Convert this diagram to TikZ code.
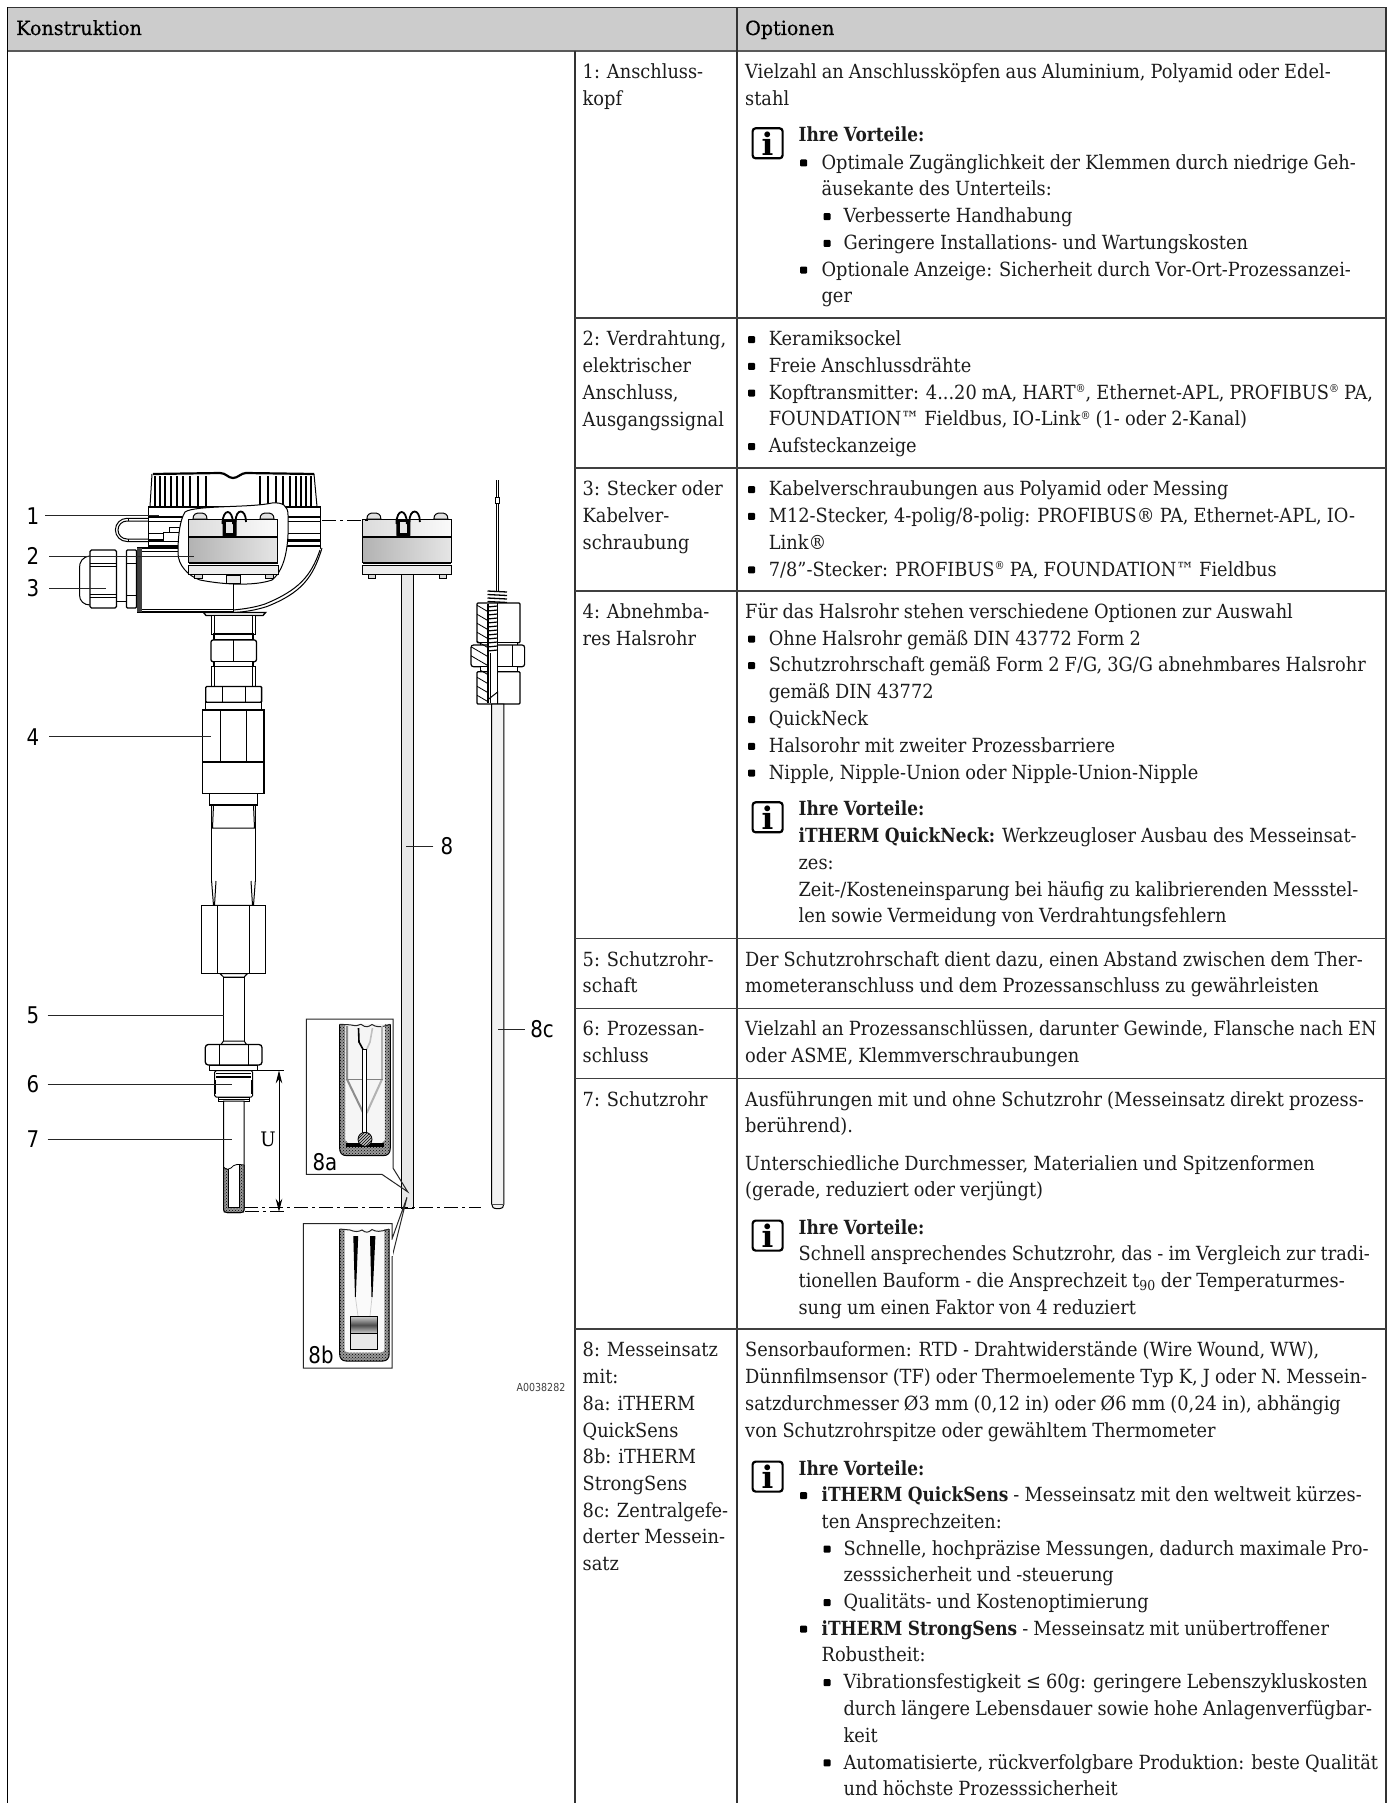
\documentclass[tikz,border=0pt]{standalone}
\usepackage{fontspec}
\usetikzlibrary{patterns,arrows.meta}
\setmainfont{DejaVu Serif}[FakeStretch=0.912,WordSpace=0.9,BoldFeatures={FakeStretch=0.87}]
\newfontfamily\hdrf{DejaVu Serif}[FakeStretch=0.98,FakeBold=0.5]
\newfontfamily\lblf{DejaVu Sans}[FakeStretch=0.86]
\newfontfamily\iconf{DejaVu Serif Bold}
\definecolor{ink}{HTML}{1C1C1C}
\definecolor{rule}{HTML}{333333}
\definecolor{headfill}{HTML}{CCCCCC}
\tikzset{
  txt/.style={inner sep=0pt,anchor=north west,align=left,text=ink,font=\fontsize{19.5}{26.7}\selectfont},
  hdr/.style={inner sep=0pt,anchor=base west,text=black,font=\hdrf\fontsize{19.5}{26.7}\selectfont},
  icon/.style={draw=black,line width=2.2pt,rounded corners=3pt,minimum width=30pt,minimum height=30pt,inner sep=0pt,anchor=north west,font=\iconf\fontsize{31}{31}\selectfont},
  num/.style={inner sep=0pt,font=\lblf\fontsize{23}{23}\selectfont,text=black},
  leader/.style={line width=1pt,draw=black!85},
  dl/.style={line width=1pt,draw=black},
  pl/.style={line width=1pt,draw=black,fill=white},
  cen/.style={line width=.8pt,draw=black,dash pattern=on 14pt off 4pt on 3pt off 4pt},
  wall/.style={preaction={fill=black!40},pattern=crosshatch dots,pattern color=black},
}
\newcommand\T[4]{\node[txt] (#1) at ({#2},{#3-18.69}) {\strut #4};}
\newcommand\Bu[2]{\fill[black,rounded corners=1pt] ({#1},{#2-9.5}) rectangle ({#1+7},{#2-2.5});}
\newcommand\Ic[2]{\node[icon] (#1) at (751.5,{#2-14.5}) {i};}
\newcommand\Sup[1]{\raisebox{.62ex}{\fontsize{11}{11}\selectfont #1}}
\newcommand\Insertblk{%
  \fill[left color=black!30,right color=black!10] (188.7,537) rectangle (277.5,562.7);
  \fill[left color=black!14,right color=black!2] (188.7,519.3) rectangle (277.5,537);
  \draw[line width=1.2pt] (188.7,519.3) rectangle (277.5,562.7);
  \draw[line width=1.2pt] (188.7,537) -- (277.5,537);
  \draw[line width=1.6pt] (188.7,519.3) -- (277.5,519.3);
  \draw[line width=1.6pt] (188.7,562.7) -- (277.5,562.7);
  \draw[pl,fill=black!7] (188.7,565.7) rectangle (278,574);
  \draw[pl,fill=black!15] (194.5,574) rectangle (202,578);
  \draw[pl,fill=black!15] (265.5,574) rectangle (273,578);
  \draw[pl,fill=black!12] (193,519) .. controls (193,514) and (196,513) .. (200,513) .. controls (204,513) and (207,514) .. (207,519) -- cycle;
  \draw[pl,fill=black!12] (260,519) .. controls (260,514) and (263,513) .. (267,513) .. controls (271,513) and (274,514) .. (274,519) -- cycle;
  \fill[black,rounded corners=1pt] (222.5,519.5) rectangle (236.5,536.5);
  \fill[black!10] (226,522) rectangle (233,533);
  \draw[line width=1.8pt] (222.5,524) .. controls (222.5,508) and (233,508) .. (233,524);
  \draw[line width=1.8pt] (235.5,522) .. controls (235.5,508) and (246,508) .. (246,522);
}
\begin{document}
\begin{tikzpicture}[x=1pt,y=-1pt,line cap=butt]
\useasboundingbox (0,0) rectangle (1387,1803);
\fill[white] (0,0) rectangle (1387,1803);
% ---------- table ----------
\fill[headfill] (7.5,7.5) rectangle (1386,51);
\draw[rule,line width=1.2pt] (7.5,7.5) -- (1386,7.5);
\draw[black!65,line width=1.5pt] (7.5,51) -- (1386,51);
\draw[black,line width=1.2pt] (7.5,7.5) -- (7.5,1803);
\draw[rule,line width=1.1pt] (575,51) -- (575,1803);
\draw[rule,line width=1.1pt] (737,7.5) -- (737,1803);
\draw[rule,line width=1.1pt] (1386,7.5) -- (1386,1803);
\foreach \yy in {318,468,591,938.7,1008.7,1078.7,1329}
  \draw[black!75,line width=1.2pt] (575,\yy) -- (1386,\yy);
\node[hdr] (hk) at (16,35) {Konstruktion};
\node[hdr] (ho) at (745,35) {Optionen};
% row 1
\T{a1}{582.5}{78.3}{1: Anschluss-\\kopf}
\T{b1}{745}{78.3}{Vielzahl an Anschlussköpfen aus Aluminium, Polyamid oder Edel-\\stahl}
\Ic{i1}{141.7}
\T{b1v}{798.4}{141.7}{\bfseries Ihre Vorteile:}
\Bu{800}{169}
\T{b1b}{821.4}{169}{Optimale Zugänglichkeit der Klemmen durch niedrige Geh-\\äusekante des Unterteils:}
\Bu{823.5}{222.7}
\T{b1c}{843.4}{222.7}{Verbesserte Handhabung}
\Bu{823.5}{249.3}
\T{b1d}{843.4}{249.3}{Geringere Installations- und Wartungskosten}
\Bu{800}{276}
\T{b1e}{821.4}{276}{Optionale Anzeige: Sicherheit durch Vor-Ort-Prozessanzei-\\ger}
% row 2
\T{a2}{582.5}{345.7}{2: Verdrahtung,\\elektrischer\\Anschluss,\\Ausgangssignal}
\Bu{748}{345.7}
\T{b2a}{768.6}{345.7}{Keramiksockel}
\Bu{748}{372.4}
\T{b2b}{768.6}{372.4}{Freie Anschlussdrähte}
\Bu{748}{399}
\T{b2c}{768.6}{399}{Kopftransmitter: 4...20 mA, HART\Sup{®}, Ethernet-APL, PROFIBUS\Sup{®} PA,\\FOUNDATION™ Fieldbus, IO-Link\Sup{®} (1- oder 2-Kanal)}
\Bu{748}{452.5}
\T{b2d}{768.6}{452.5}{Aufsteckanzeige}
% row 3
\T{a3}{582.5}{495.7}{3: Stecker oder\\Kabelver-\\schraubung}
\Bu{748}{495.7}
\T{b3a}{768.6}{495.7}{Kabelverschraubungen aus Polyamid oder Messing}
\Bu{748}{522.4}
\T{b3b}{768.6}{522.4}{M12-Stecker, 4-polig/8-polig: PROFIBUS® PA, Ethernet-APL, IO-\\Link®}
\Bu{748}{575.8}
\T{b3c}{768.6}{575.8}{7/8"-Stecker: PROFIBUS\Sup{®} PA, FOUNDATION™ Fieldbus}
% row 4
\T{a4}{582.5}{618.3}{4: Abnehmba-\\res Halsrohr}
\T{b4}{745}{618.3}{Für das Halsrohr stehen verschiedene Optionen zur Auswahl}
\Bu{748}{645}
\T{b4a}{768.6}{645}{Ohne Halsrohr gemäß DIN 43772 Form 2}
\Bu{748}{671.7}
\T{b4b}{768.6}{671.7}{Schutzrohrschaft gemäß Form 2 F/G, 3G/G abnehmbares Halsrohr\\gemäß DIN 43772}
\Bu{748}{725.5}
\T{b4c}{768.6}{725.5}{QuickNeck}
\Bu{748}{752.4}
\T{b4d}{768.6}{752.4}{Halsorohr mit zweiter Prozessbarriere}
\Bu{748}{779}
\T{b4e}{768.6}{779}{Nipple, Nipple-Union oder Nipple-Union-Nipple}
\Ic{i4}{815.7}
\T{b4v}{798.4}{815.7}{{\bfseries Ihre Vorteile:}\\{\bfseries iTHERM QuickNeck:} Werkzeugloser Ausbau des Messeinsat-\\zes:\\Zeit-/Kosteneinsparung bei häufig zu kalibrierenden Messstel-\\len sowie Vermeidung von Verdrahtungsfehlern}
% row 5
\T{a5}{582.5}{966}{5: Schutzrohr-\\schaft}
\T{b5}{745}{966}{Der Schutzrohrschaft dient dazu, einen Abstand zwischen dem Ther-\\mometeranschluss und dem Prozessanschluss zu gewährleisten}
% row 6
\T{a6}{582.5}{1035.7}{6: Prozessan-\\schluss}
\T{b6}{745}{1035.7}{Vielzahl an Prozessanschlüssen, darunter Gewinde, Flansche nach EN\\oder ASME, Klemmverschraubungen}
% row 7
\T{a7}{582.5}{1106}{7: Schutzrohr}
\T{b7}{745}{1106}{Ausführungen mit und ohne Schutzrohr (Messeinsatz direkt prozess-\\berührend).}
\T{b7b}{745}{1170}{Unterschiedliche Durchmesser, Materialien und Spitzenformen\\(gerade, reduziert oder verjüngt)}
\Ic{i7}{1234}
\T{b7v}{798.4}{1234}{{\bfseries Ihre Vorteile:}\\Schnell ansprechendes Schutzrohr, das - im Vergleich zur tradi-\\tionellen Bauform - die Ansprechzeit t\textsubscript{90} der Temperaturmes-\\sung um einen Faktor von 4 reduziert}
% row 8
\T{a8}{582.5}{1356.7}{8: Messeinsatz\\mit:\\8a: iTHERM\\QuickSens\\8b: iTHERM\\StrongSens\\8c: Zentralgefe-\\derter Messein-\\satz}
\T{b8}{745}{1356.7}{Sensorbauformen: RTD - Drahtwiderstände (Wire Wound, WW),\\Dünnfilmsensor (TF) oder Thermoelemente Typ K, J oder N. Messein-\\satzdurchmesser Ø3 mm (0,12 in) oder Ø6 mm (0,24 in), abhängig\\von Schutzrohrspitze oder gewähltem Thermometer}
\Ic{i8}{1475}
\T{b8v}{798.4}{1475}{\bfseries Ihre Vorteile:}
\Bu{800}{1501.7}
\T{b8a}{821.4}{1501.7}{{\bfseries iTHERM QuickSens} - Messeinsatz mit den weltweit kürzes-\\ten Ansprechzeiten:}
\Bu{823.5}{1555}
\T{b8b}{843.4}{1555}{Schnelle, hochpräzise Messungen, dadurch maximale Pro-\\zesssicherheit und -steuerung}
\Bu{823.5}{1608.5}
\T{b8c}{843.4}{1608.5}{Qualitäts- und Kostenoptimierung}
\Bu{800}{1635}
\T{b8d}{821.4}{1635}{{\bfseries iTHERM StrongSens} - Messeinsatz mit unübertroffener\\Robustheit:}
\Bu{823.5}{1688.7}
\T{b8e}{843.4}{1688.7}{Vibrationsfestigkeit ≤ 60g: geringere Lebenszykluskosten\\durch längere Lebensdauer sowie hohe Anlagenverfügbar-\\keit}
\Bu{823.5}{1768.8}
\T{b8f}{843.4}{1768.8}{Automatisierte, rückverfolgbare Produktion: beste Qualität\\und höchste Prozesssicherheit}
% ---------- thermometer: head ----------
\draw[pl] (152,474) -- (150,506.5) -- (317,506.5) -- (314,474);
\foreach \xx/\ww in {155/2.6,160/2.2,165/2.2,170.5/2,176.5/2,183/1.8,190/1.8,198/1.6,206/2.4}{
  \draw[line width=\ww pt] (\xx,476) -- (\xx,506);
  \draw[line width=\ww pt] ({466-\xx},476) -- ({466-\xx},506);
}
\draw[line width=2.2pt] (153,474) -- (220,473) .. controls (226,473) and (228,478) .. (233,478) .. controls (238,478) and (241,473) .. (246,473) -- (314,474);
\draw[pl] (148,506.7) rectangle (320,548);
\foreach \yy/\ww in {506.7/2,516.7/2.4,521.7/1.4,533/1,540/3,546/2.4}
  \draw[line width=\ww pt] (148,\yy) -- (320,\yy);
\draw[line width=1pt] (148,518.3) -- (127,518.3) arc[start angle=-90,end angle=-270,radius=11.6] -- (148,541.5);
\draw[line width=1pt] (148,521) -- (127,521) arc[start angle=-90,end angle=-270,radius=9] -- (148,539);
\draw[line width=1pt] (128,518.3) -- (128,521);
\draw[line width=1pt] (128,539) -- (128,541.5);
\draw[pl] (163,532) rectangle (179,541);
\draw[pl] (169,527) rectangle (179,532);
\path[pl,draw=none] (137,548) -- (320,548) -- (320,550) .. controls (312,578) and (300,592) .. (266,605) .. controls (256,609) and (245,611) .. (233,612) -- (137,612) -- cycle;
\draw[line width=1pt] (322,548) .. controls (313,578) and (301,593) .. (267,606.5) .. controls (256,610) and (245,612) .. (233,612.5);
\draw[line width=1pt] (320,550) .. controls (311,576) and (299,590) .. (265,604) .. controls (256,607) and (245,609) .. (233,610);
\draw[line width=1.4pt] (137,548) -- (180,548);
\draw[line width=1pt] (142,551) -- (180,551);
\draw[line width=1pt] (142,609.5) -- (233,609.5);
\draw[line width=1.4pt] (137,612) -- (233,612);
\fill[black!75] (137,548) rectangle (142.4,612);
\draw[pl] (185,512) .. controls (195,505) and (250,508) .. (272,503) .. controls (283,502) and (288,506) .. (288,515) .. controls (289,540) and (287,568) .. (272,580) .. controls (255,586) and (225,585) .. (200,580) .. controls (188,576) and (178,565) .. (178,553) .. controls (178,535) and (180,520) .. (185,512) -- cycle;
\Insertblk
\draw[line width=1pt,fill=black!8] (226.5,575) rectangle (240.5,583);
\draw[line width=1.8pt] (233.4,583) -- (233.4,612);
\draw[pl] (90,556) .. controls (82,557) and (79.5,562) .. (79.5,568) -- (79.5,595) .. controls (79.5,601) and (84,605) .. (90,605);
\draw[pl] (116.5,556) rectangle (127,601.7);
\draw[pl,line width=1.3pt,rounded corners=1.5pt] (90,550) rectangle (116.5,608);
\foreach \yy in {563.5,566.7,594,597}
  \draw[line width=1pt] (90,\yy) -- (116.5,\yy);
\draw[pl,line width=1.3pt,rounded corners=1pt] (126.5,550) rectangle (136.5,608);
\draw[line width=1pt] (126.5,563) -- (136.5,563);
\draw[line width=1pt] (126.5,595) -- (136.5,595);
% ---------- stem ----------
\draw[pl,line width=1.3pt] (203.5,612.5) -- (265.6,612.5) -- (263,615.5) -- (206,615.5) -- cycle;
\draw[pl] (211.6,615.5) rectangle (255.3,634);
\draw[dl] (214.6,615.5) -- (214.6,634) (252.3,615.5) -- (252.3,634);
\draw[pl,line width=1.3pt] (214,634) rectangle (253,640);
\draw[pl,line width=1.3pt,rounded corners=2pt] (211,640) rectangle (256.4,661.7);
\draw[line width=1.2pt] (233.5,640) -- (233.5,661.7);
\draw[pl,line width=1.3pt] (214,661.7) rectangle (253,666.7);
\draw[pl] (211.6,666.7) rectangle (255.3,686);
\draw[dl] (214.6,666.7) -- (214.6,686) (252.3,666.7) -- (252.3,686);
\draw[pl,line width=1.3pt,rounded corners=1pt] (205.7,686.5) rectangle (261.6,702.3);
\draw[dl] (222,686.5) -- (222,702.3) (245,686.5) -- (245,702.3);
\draw[pl,line width=1.2pt] (205.7,702.3) rectangle (261.6,710);
\draw[pl,line width=1.3pt] (202.7,710) rectangle (264,761.7);
\draw[dl] (220.5,710) -- (220.5,761.7) (246,710) -- (246,761.7);
\draw[pl,line width=1.3pt] (202.7,762) rectangle (264,793.3);
\draw[pl,line width=1.2pt] (209.4,793.3) rectangle (257.5,805);
\draw[pl] (211.6,805) rectangle (255.3,881);
\draw[dl] (213.5,805) -- (212.5,828) -- (254.5,828) -- (253.5,805);
\draw[pl] (211.6,881) -- (213.5,905.3) -- (253.5,905.3) -- (255.3,881);
\draw[dl] (216,881) -- (214.5,905.3) (251,881) -- (252.5,905.3);
\draw[pl,line width=1.3pt] (201.3,905.3) rectangle (265.6,973.6);
\draw[dl] (217.5,905.3) -- (217.5,973.6) (249.4,905.3) -- (249.4,973.6);
\draw[pl] (220,973.6) -- (223.5,977) -- (244.2,977) -- (247.5,973.6) -- cycle;
\draw[pl] (223.5,977) rectangle (244.2,1041);
\draw[pl] (223.5,1041) -- (221,1044.5) -- (246.5,1044.5) -- (244.2,1041) -- cycle;
\draw[pl,line width=1.3pt,rounded corners=3pt] (205.3,1044.5) rectangle (262,1065);
\draw[dl] (219,1044.5) -- (219,1065) (248.6,1044.5) -- (248.6,1065);
\draw[pl] (209.8,1065) rectangle (257,1070.7);
\draw[pl,rounded corners=1.5pt] (214.6,1070.7) rectangle (252.7,1097);
\draw[line width=1.5pt] (216,1073.5) -- (251,1073.5) (216,1077) -- (251,1077);
\draw[line width=2pt] (215,1080) -- (215,1094) (252,1080) -- (252,1094);
\draw[pl] (218,1097) rectangle (249,1101);
\draw[dl] (218,1099) -- (249,1099);
\draw[pl] (223.5,1101) -- (223.5,1209) .. controls (223.5,1211.5) and (225,1212.5) .. (227,1212.5) -- (241,1212.5) .. controls (243,1212.5) and (244.2,1211.5) .. (244.2,1209) -- (244.2,1101) -- cycle;
\path[wall] (223.5,1167) -- (228.8,1169.5) -- (228.8,1207) -- (239,1207) -- (239,1165) -- (244.2,1165) -- (244.2,1212.5) -- (223.5,1212.5) -- cycle;
\draw[line width=.8pt] (223.5,1167) .. controls (226,1170) and (229,1170) .. (231,1168) .. controls (234,1164) and (238,1164) .. (244.2,1165);
\draw[line width=.8pt] (228.8,1169) -- (228.8,1207) -- (239,1207) -- (239,1165);
\draw[line width=1pt] (223.5,1167) -- (223.5,1209) .. controls (223.5,1211.5) and (225,1212.5) .. (227,1212.5) -- (241,1212.5) .. controls (243,1212.5) and (244.2,1211.5) .. (244.2,1209) -- (244.2,1165);
% dimension U
\coordinate (ut) at (279,1070.4);
\coordinate (ub) at (279,1211.8);
\draw[line width=1pt] (257,1070.4) -- (284,1070.4);
\draw[cen] (245,1211.8) -- (284,1211.8);
\draw[line width=1pt,{Stealth[length=13pt,width=6.5pt]}-{Stealth[length=13pt,width=6.5pt]}] (ut) -- (ub);
\node[inner sep=0pt,text=black,font=\fontsize{20}{20}\selectfont] (ulab) at (268,1139) {U};
% ---------- insert 8 ----------
\begin{scope}[xshift=173.9pt]
\Insertblk
\end{scope}
\draw[line width=1pt,fill=black!9] (401.8,574) rectangle (413.6,1208);
\draw[cen] (322,520) -- (370,520);
\draw[cen] (244,1207.8) -- (481,1207.8);
% ---------- insert 8c ----------
\draw[line width=.8pt] (496.3,480) -- (496.3,591) (498.2,480) -- (498.2,591);
\draw[pl,line width=1pt] (495,497) rectangle (499.5,503);
\foreach \yy in {591,594.5,598,601.5}
  \draw[line width=1.3pt] (487.5,\yy) -- (507,{\yy+1});
\draw[pl,line width=1.2pt,rounded corners=1pt] (477,603) rectangle (520,642.7);
\draw[pl,line width=1pt] (480,642.7) rectangle (517,645);
\draw[pl,line width=1.2pt,rounded corners=2.5pt] (471,645) rectangle (524.6,666.7);
\draw[pl,line width=1pt] (480,666.7) rectangle (517,671.7);
\draw[pl,line width=1.2pt,rounded corners=1pt] (477,671.7) rectangle (520,704);
\draw[dl] (497.6,645) -- (497.6,704);
\draw[dl] (512,645) -- (512,666.7);
\begin{scope}
\clip (477,603) -- (487.5,603) -- (487.5,704) -- (477,704) -- (477,672) -- (481,672) -- (481,667) -- (471,660) -- (471,645) -- (477,643) -- cycle;
\foreach \yy in {600,609,...,720}
  \draw[line width=.8pt] (468,\yy) -- (492,{\yy+14});
\end{scope}
\fill[white] (487.5,604) rectangle (497.6,703);
\foreach \yy in {607,611,...,651}
  \draw[line width=1.2pt] (487.5,\yy) -- (497.6,{\yy-1});
\draw[line width=2pt] (487.5,604) -- (487.5,703);
\draw[line width=1pt] (490,653) -- (490,703) (497.6,603) -- (497.6,704);
\draw[line width=1pt] (487.5,700) -- (497.6,692) -- (497.6,703);
\draw[pl,fill=black!5] (491.7,704) -- (491.7,1204) .. controls (491.7,1207) and (493,1208.7) .. (497.8,1208.7) .. controls (502.6,1208.7) and (503.9,1207) .. (503.9,1204) -- (503.9,704) -- cycle;
\draw[black!70,line width=.7pt] (491.7,1204) -- (503.9,1204);
% ---------- inset 8a ----------
\coordinate (ptr8a) at (407.7,1191.8);
\draw[line width=1pt,black!85] (393,1168) -- (393,1019) -- (306.3,1019) -- (306.3,1174.4) -- (382,1174.4) -- (ptr8a) -- cycle;
\path[fill=black!4] (339.6,1024.3) rectangle (390.3,1150);
\path[wall] (339.6,1024.3) -- (345,1024.3) -- (345,1140) -- (350,1145) -- (380,1145) -- (384.8,1140) -- (384.8,1024.3) -- (390.3,1024.3) -- (390.3,1148) .. controls (390.3,1153) and (388,1155.7) .. (383,1155.7) -- (347,1155.7) .. controls (342,1155.7) and (339.6,1153) .. (339.6,1148) -- cycle;
\draw[line width=1pt] (339.6,1024.3) -- (339.6,1148) .. controls (339.6,1153) and (342,1155.7) .. (347,1155.7) -- (383,1155.7) .. controls (388,1155.7) and (390.3,1153) .. (390.3,1148) -- (390.3,1024.3);
\draw[line width=1pt,black!85] (339.6,1024.3) -- (350,1024.8) .. controls (356,1026) and (358,1026) .. (361,1024.3) .. controls (366,1028) and (368,1027) .. (372,1024.5) .. controls (376,1027) and (380,1028) .. (390.3,1024.3);
\draw[black!45,line width=2pt] (347,1026) -- (347,1079.3) -- (363.3,1113);
\draw[black!30,line width=2pt] (382,1026) -- (382,1079.3) -- (366.7,1113);
\draw[black!50,line width=1pt] (346,1079.3) -- (382.7,1079.3);
\draw[line width=1.6pt] (358.5,1028) -- (359,1042) -- (363,1049.3);
\draw[black!25,line width=1.6pt] (372.5,1028) -- (370,1042) -- (366.7,1049.3);
\draw[pl,line width=.8pt] (362.8,1049.3) rectangle (366.6,1134);
\fill[black] (346,1143.3) rectangle (383.5,1146.7);
\draw[line width=.8pt,preaction={fill=black!25},pattern=north east lines,pattern color=black] (365,1139.3) circle[radius=7];
\node[num] (l8a) at (325,1162) {8a};
% ---------- inset 8b ----------
\coordinate (ptr8b) at (407,1197.3);
\draw[line width=1pt,black!85] (392.2,1238.4) -- (392.2,1223.5) -- (303.4,1223.5) -- (303.4,1368.2) -- (392.2,1368.2) -- (392.2,1256.5) -- (ptr8b) -- cycle;
\fill[white] (391.2,1239.5) rectangle (393,1255.5);
\fill[black!2] (339.6,1229) rectangle (389.2,1355);
\path[wall] (339.6,1229) -- (344.5,1229) -- (344.5,1350) .. controls (344.5,1351) and (346,1352.5) .. (348,1352.5) -- (381,1352.5) .. controls (383,1352.5) and (384.3,1351) .. (384.3,1350) -- (384.3,1229) -- (389.2,1229) -- (389.2,1354) .. controls (389.2,1358) and (387,1361) .. (383,1361) -- (346,1361) .. controls (342,1361) and (339.6,1358) .. (339.6,1354) -- cycle;
\draw[line width=1pt] (339.6,1229) -- (339.6,1354) .. controls (339.6,1358) and (342,1361) .. (346,1361) -- (383,1361) .. controls (387,1361) and (389.2,1358) .. (389.2,1354) -- (389.2,1229);
\draw[line width=1pt,black!85] (339.6,1229) -- (350,1230) .. controls (355,1232) and (358,1232) .. (362,1230) .. controls (366,1233) and (368,1233) .. (372,1229.5) .. controls (376,1232) and (380,1232) .. (389.2,1229);
\fill[black] (353.3,1236) -- (358.2,1236) -- (355.8,1297) -- (355,1297) -- cycle;
\fill[black] (370,1236) -- (375.4,1236) -- (372.5,1297) -- (371.5,1297) -- cycle;
\draw[black!20,line width=.7pt] (355.4,1297) -- (358,1316) (372,1297) -- (370,1316);
\fill[top color=black!20,bottom color=black!18,middle color=black!70] (350.4,1316.5) rectangle (377.7,1333.6);
\fill[black!9] (350.4,1333.6) rectangle (377.7,1349);
\draw[line width=1pt] (350.4,1316.5) rectangle (377.7,1349);
\draw[line width=1pt] (350.4,1333.6) -- (377.7,1333.6);
\node[num] (l8b) at (321,1354.7) {8b};
% ---------- callouts ----------
\node[num,minimum width=24pt] (l1) at (33,515.7) {1};
\node[num,minimum width=32pt] (l2) at (33,556) {2};
\node[num,minimum width=32pt] (l3) at (33,588.3) {3};
\node[num,minimum width=32pt] (l4) at (33,736.7) {4};
\node[num,minimum width=29pt] (l5) at (33,1015) {5};
\node[num,minimum width=29pt] (l6) at (33,1084.5) {6};
\node[num,minimum width=29pt] (l7) at (33,1139.5) {7};
\node[num,minimum width=27pt] (l8) at (447,846) {8};
\node[num,minimum width=34pt] (l8c) at (542,1029) {8c};
\coordinate (e1) at (159,515.7);
\coordinate (e2) at (194,556);
\coordinate (e3) at (105.5,588.3);
\coordinate (e4) at (211,736.7);
\coordinate (e5) at (224,1015);
\coordinate (e6) at (232,1084.5);
\coordinate (e7) at (232,1139.5);
\coordinate (e8) at (406,846);
\coordinate (e8c) at (497.6,1029);
\draw[leader] (l1.east) -- (e1);
\draw[leader] (l2.east) -- (e2);
\draw[leader] (l3.east) -- (e3);
\draw[leader] (l4.east) -- (e4);
\draw[leader] (l5.east) -- (e5);
\draw[leader] (l6.east) -- (e6);
\draw[leader] (l7.east) -- (e7);
\draw[leader] (l8.west) -- (e8);
\draw[leader] (l8c.west) -- (e8c);
\node[inner sep=0pt,anchor=east,text=black!75,font=\lblf\fontsize{11}{11}\selectfont] (code) at (565.5,1387.5) {A0038282};
\end{tikzpicture}
\end{document}
